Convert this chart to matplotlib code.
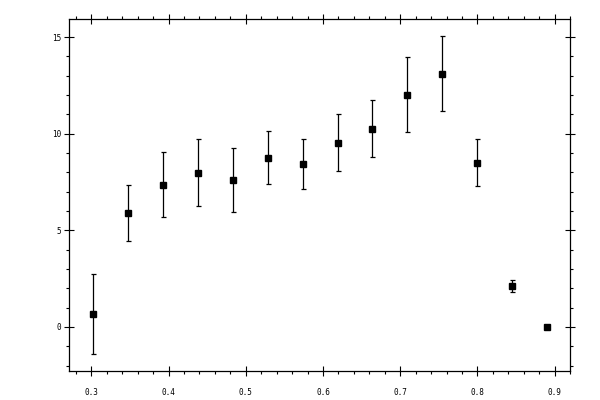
import numpy as np
import matplotlib.pyplot as plt
from matplotlib.ticker import MultipleLocator

# datos
x = [0.3017, 0.3470, 0.3924, 0.4377, 0.4830, 0.5284, 0.5737,
     0.6190, 0.6631, 0.7084, 0.7537, 0.7990, 0.8443, 0.8896]
y = [0.67, 5.91, 7.36, 7.98, 7.62, 8.76, 8.45,
     9.53, 10.26, 12.02, 13.11, 8.50, 2.12, 0.0]
yerr = [2.08, 1.45, 1.68, 1.73, 1.66, 1.38, 1.30,
        1.48, 1.48, 1.95, 1.95, 1.23, 0.33, 0.0]

fig = plt.figure(figsize=(6, 4), dpi=100)
ax = fig.add_axes([0.1155, 0.0733, 0.835, 0.8785])

ax.errorbar(x, y, yerr=yerr, fmt='s', color='black', ms=5,
            elinewidth=0.9, capsize=1.8, capthick=0.9)

ax.set_xlim(0.2715, 0.9203)
ax.set_ylim(-2.26, 15.92)
ax.xaxis.set_major_locator(MultipleLocator(0.1))
ax.xaxis.set_minor_locator(MultipleLocator(0.02))
ax.yaxis.set_major_locator(MultipleLocator(5))
ax.yaxis.set_minor_locator(MultipleLocator(1))
ax.set_xticks([0.3, 0.4, 0.5, 0.6, 0.7, 0.8, 0.9])
ax.set_xticklabels(['0.3', '0.4', '0.5', '0.6', '0.7', '0.8', '0.9'])
ax.set_yticks([0, 5, 10, 15])
ax.set_yticklabels(['0', '5', '10', '15'])

ax.tick_params(which='major', direction='inout', length=6.5, width=0.8,
               top=True, right=True, labelsize=5.5)
ax.tick_params(which='minor', direction='out', length=2.2, width=0.8,
               top=True, right=True)
ax.tick_params(axis='x', which='major', pad=9)
ax.tick_params(axis='y', which='major', pad=2.8)
for lab in ax.get_xticklabels() + ax.get_yticklabels():
    lab.set_family('DejaVu Sans Mono')
for s in ax.spines.values():
    s.set_linewidth(0.9)

fig.savefig('out.png', dpi=100)
